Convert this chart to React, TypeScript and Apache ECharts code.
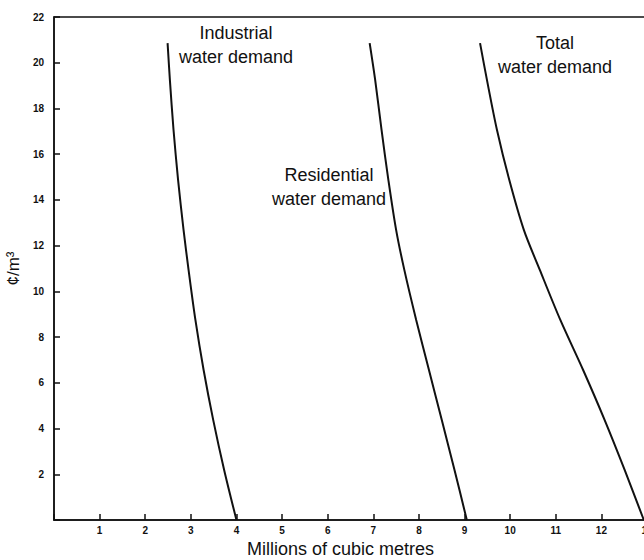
import React, { useEffect, useRef } from "react";
import * as echarts from "echarts";

// Price (cents per cubic metre) sampled along the demand curves
const prices = [20.86, 19.26, 17.07, 14.88, 12.69, 10.94, 8.75, 6.56, 4.38, 2.19, 0];
// Quantity demanded (millions of cubic metres) at each price
const industrial = [2.49, 2.54, 2.62, 2.72, 2.84, 2.95, 3.1, 3.28, 3.49, 3.73, 4.0];
const residential = [6.92, 7.04, 7.18, 7.33, 7.5, 7.68, 7.94, 8.22, 8.5, 8.78, 9.05];
const total = [9.34, 9.49, 9.71, 9.98, 10.3, 10.65, 11.1, 11.6, 12.07, 12.51, 12.93];

const curveLabels = [
  { text: "Industrial\nwater demand", x: 236, y: 45 },
  { text: "Residential\nwater demand", x: 329, y: 187 },
  { text: "Total\nwater demand", x: 555, y: 55 },
];

const FONT = "'Liberation Sans', Arial, Helvetica, sans-serif";

export default function App() {
  const ref = useRef<HTMLDivElement>(null);
  useEffect(() => {
    if (!ref.current) return;
    const chart = echarts.init(ref.current, undefined, { renderer: "svg" });
    const mk = (q: number[]) => q.map((v, i) => [v, prices[i]]);
    const lineSeries = (name: string, q: number[]) => ({
      type: "line",
      name,
      data: mk(q),
      smooth: 0.3,
      showSymbol: false,
      symbol: "none",
      lineStyle: { color: "#111", width: 2 },
      z: 3,
    });
    chart.setOption({
      animation: false,
      backgroundColor: "#fff",
      grid: {
        left: 54,
        top: 17,
        bottom: 40,
        width: 593,
        outerBoundsMode: "none",
        containLabel: false,
        show: true,
        borderColor: "#111",
        borderWidth: 1.5,
        backgroundColor: "transparent",
      },
      xAxis: {
        type: "value",
        min: 0,
        max: 13,
        interval: 1,
        name: "Millions of cubic metres",
        nameLocation: "middle",
        nameGap: 19,
        nameTextStyle: {
          fontFamily: FONT,
          fontSize: 18,
          color: "#111",
          padding: [0, 20, 0, 0],
        },
        axisLine: { show: true, lineStyle: { color: "#111", width: 1.5 } },
        axisTick: { show: true, inside: true, length: 6, lineStyle: { color: "#111", width: 1.5 } },
        axisLabel: {
          margin: 5,
          fontFamily: FONT,
          fontSize: 10,
          fontWeight: "bold",
          color: "#111",
          hideOverlap: false,
          formatter: (v: number) => (v === 0 ? "" : String(v)),
        },
        splitLine: { show: false },
      },
      yAxis: {
        type: "value",
        min: 0,
        max: 22,
        interval: 2,
        name: "¢/m³",
        nameLocation: "middle",
        nameGap: 24,
        nameRotate: 90,
        nameTextStyle: { fontFamily: FONT, fontSize: 17, color: "#111" },
        axisLine: { show: true, lineStyle: { color: "#111", width: 1.5 } },
        axisTick: { show: true, inside: true, length: 6, lineStyle: { color: "#111", width: 1.5 } },
        axisLabel: {
          margin: 10,
          fontFamily: FONT,
          fontSize: 10,
          fontWeight: "bold",
          color: "#111",
          formatter: (v: number) => (v === 0 ? "" : String(v)),
        },
        splitLine: { show: false },
      },
      graphic: curveLabels.map((l) => ({
        type: "text",
        x: l.x,
        y: l.y,
        z: 10,
        style: {
          text: l.text,
          align: "center",
          verticalAlign: "middle",
          fontFamily: FONT,
          fontSize: 18,
          lineHeight: 24,
          fill: "#111",
        },
      })),
      series: [
        lineSeries("Industrial water demand", industrial),
        lineSeries("Residential water demand", residential),
        lineSeries("Total water demand", total),
      ],
    });
    return () => chart.dispose();
  }, []);
  return (
    <div
      ref={ref}
      style={{ position: "fixed", left: 0, top: 0, width: 644, height: 560, background: "#fff" }}
    />
  );
}
